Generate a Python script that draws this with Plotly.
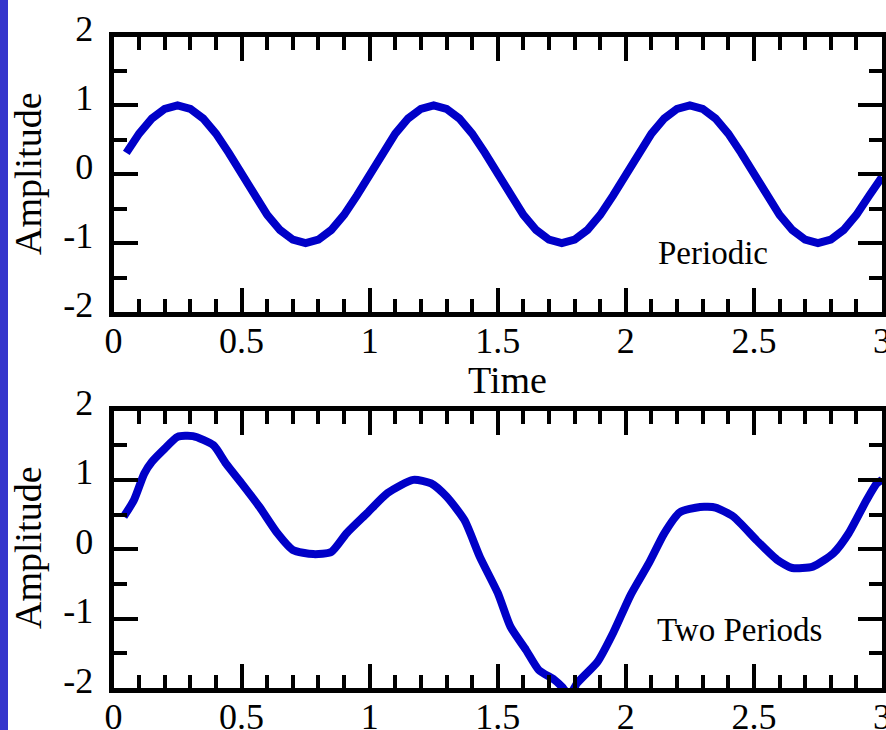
import plotly.graph_objects as go

W, H = 886, 730

# ---- data ----
time_periodic = [0.05, 0.10, 0.15, 0.20, 0.25, 0.30, 0.35, 0.40, 0.45, 0.50,
                 0.55, 0.60, 0.65, 0.70, 0.75, 0.80, 0.85, 0.90, 0.95, 1.00,
                 1.05, 1.10, 1.15, 1.20, 1.25, 1.30, 1.35, 1.40, 1.45, 1.50,
                 1.55, 1.60, 1.65, 1.70, 1.75, 1.80, 1.85, 1.90, 1.95, 2.00,
                 2.05, 2.10, 2.15, 2.20, 2.25, 2.30, 2.35, 2.40, 2.45, 2.50,
                 2.55, 2.60, 2.65, 2.70, 2.75, 2.80, 2.85, 2.90, 2.95, 3.00]
amp_periodic = [0.31, 0.59, 0.81, 0.95, 1.00, 0.95, 0.81, 0.59, 0.31, 0.00,
                -0.31, -0.59, -0.81, -0.95, -1.00, -0.95, -0.81, -0.59, -0.31, 0.00,
                0.31, 0.59, 0.81, 0.95, 1.00, 0.95, 0.81, 0.59, 0.31, 0.00,
                -0.31, -0.59, -0.81, -0.95, -1.00, -0.95, -0.81, -0.59, -0.31, 0.00,
                0.31, 0.59, 0.81, 0.95, 1.00, 0.95, 0.81, 0.59, 0.31, 0.00,
                -0.31, -0.59, -0.81, -0.95, -1.00, -0.95, -0.81, -0.59, -0.31, -0.04]

time_two = [0.04, 0.08, 0.12, 0.15, 0.20, 0.25, 0.31, 0.39, 0.44, 0.50,
            0.57, 0.64, 0.70, 0.78, 0.85, 0.91, 0.99, 1.07, 1.17, 1.24,
            1.30, 1.37, 1.43, 1.50, 1.55, 1.61, 1.66, 1.72, 1.75, 1.78,
            1.81, 1.89, 1.95, 2.02, 2.09, 2.15, 2.21, 2.29, 2.35, 2.42,
            2.51, 2.59, 2.65, 2.73, 2.81, 2.87, 2.94, 2.98, 3.00]
amp_two = [0.47, 0.71, 1.09, 1.26, 1.45, 1.62, 1.63, 1.50, 1.23, 0.95,
           0.61, 0.23, -0.01, -0.07, -0.04, 0.23, 0.52, 0.81, 1.00, 0.95,
           0.76, 0.42, -0.11, -0.63, -1.12, -1.45, -1.74, -1.88, -1.98, -2.10,
           -1.93, -1.62, -1.21, -0.65, -0.20, 0.23, 0.53, 0.61, 0.60, 0.47,
           0.13, -0.15, -0.27, -0.25, -0.06, 0.23, 0.71, 0.95, 1.00]

x_tickvals = [0, 0.5, 1, 1.5, 2, 2.5, 3]
x_ticktext = ["0", "0.5", "1", "1.5", "2", "2.5", "3"]
y_tickvals = [-2, -1, 0, 1, 2]
y_ticktext = ["-2", "-1", "0", "1", "2"]

label_periodic = "Periodic"
label_two = "Two Periods"
y_title = "Amplitude"
x_title = "Time"

# ---- styling ----
FONT = "Liberation Serif, Times New Roman, serif"
LINE_BLUE = "rgb(0,0,200)"

x_dom = [113.5 / W, 882 / W]
top_dom = [1 - 312 / H, 1 - 36.5 / H]
bot_dom = [1 - 688 / H, 1 - 410.5 / H]

fig = go.Figure()
fig.add_trace(go.Scatter(x=time_periodic, y=amp_periodic, mode="lines",
                         line=dict(color=LINE_BLUE, width=8),
                         xaxis="x", yaxis="y", showlegend=False, hoverinfo="skip"))
fig.add_trace(go.Scatter(x=time_two, y=amp_two, mode="lines",
                         line=dict(color=LINE_BLUE, width=8, shape="spline", smoothing=0.6),
                         xaxis="x2", yaxis="y2", showlegend=False, hoverinfo="skip"))

common = dict(showline=True, linewidth=5, linecolor="black", mirror="ticks",
              ticks="inside", tickcolor="black", tickwidth=4, showgrid=False,
              zeroline=False, tickfont=dict(family=FONT, size=36, color="black"),
              automargin=False, fixedrange=True, ticklabeloverflow="allow")

def xaxis(anchor):
    return dict(common, domain=x_dom, range=[0, 3], anchor=anchor,
                tickmode="array", tickvals=x_tickvals, ticktext=x_ticktext,
                ticklen=24, ticklabelstandoff=-7,
                minor=dict(tickmode="linear", tick0=0, dtick=0.1, ticks="inside",
                           ticklen=13, tickwidth=4, tickcolor="black", showgrid=False))

def yaxis(anchor, dom):
    return dict(common, domain=dom, range=[-2, 2], anchor=anchor,
                tickmode="array", tickvals=y_tickvals, ticktext=y_ticktext,
                ticklen=24, ticklabelstandoff=8, ticklabelshift=-8,
                minor=dict(tickmode="linear", tick0=0, dtick=0.5, ticks="inside",
                           ticklen=13, tickwidth=4, tickcolor="black", showgrid=False))

fig.update_layout(
    width=W, height=H,
    margin=dict(l=0, r=0, t=0, b=0, pad=0),
    paper_bgcolor="white", plot_bgcolor="white",
    font=dict(family=FONT, color="black"),
    xaxis=xaxis("y"), yaxis=yaxis("x", top_dom),
    xaxis2=xaxis("y2"), yaxis2=yaxis("x2", bot_dom),
    showlegend=False,
)

fig.add_annotation(x=2.34, y=-1.14, xref="x", yref="y", text=label_periodic,
                   showarrow=False, font=dict(family=FONT, size=33, color="black"))
fig.add_annotation(x=2.445, y=-1.17, xref="x2", yref="y2", text=label_two,
                   showarrow=False, font=dict(family=FONT, size=33, color="black"))
for yc in (174, 548):
    fig.add_annotation(x=28 / W, y=1 - yc / H, xref="paper", yref="paper", text=y_title,
                       textangle=-90, showarrow=False, xanchor="center", yanchor="middle",
                       font=dict(family=FONT, size=38, color="black"))
fig.add_annotation(x=507 / W, y=1 - 380 / H, xref="paper", yref="paper", text=x_title,
                   showarrow=False, xanchor="center", yanchor="middle",
                   font=dict(family=FONT, size=38, color="black"))

fig.add_shape(type="rect", xref="paper", yref="paper", x0=0, x1=8 / W, y0=0, y1=1,
              fillcolor="#3535cc", line=dict(width=0), layer="above")

fig.write_html("out.html", config={"displayModeBar": False},
               post_script="document.body.style.margin='0px';")
